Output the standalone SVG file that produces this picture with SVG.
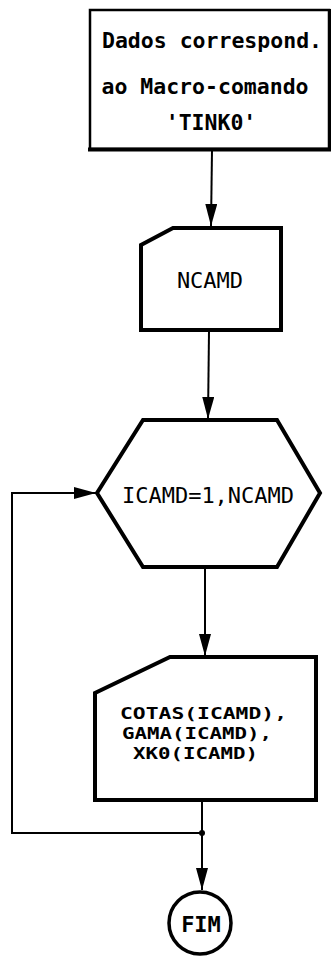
<svg xmlns="http://www.w3.org/2000/svg" width="335" height="956" viewBox="0 0 335 956">
<defs>
<style>
.t{font-family:"DejaVu Sans Mono","Liberation Mono",monospace;fill:#000}
.b{font-weight:bold}
.shape{fill:#fff;stroke:#000;stroke-width:4;stroke-linejoin:miter}
.conn{fill:none;stroke:#000;stroke-width:2}
</style>
<marker id="ah" markerUnits="userSpaceOnUse" markerWidth="22" markerHeight="12" refX="22" refY="6" viewBox="0 0 22 12" orient="auto">
<path d="M0,0 L22,6 L0,12 Z" fill="#000"/>
</marker>
</defs>
<rect width="335" height="956" fill="#fff"/>
<g id="connectors">
<line class="conn" x1="212" y1="150" x2="211" y2="226" marker-end="url(#ah)"/>
<line class="conn" x1="209" y1="331" x2="208" y2="419" marker-end="url(#ah)"/>
<line class="conn" x1="205" y1="568" x2="205" y2="656" marker-end="url(#ah)"/>
<line class="conn" x1="202" y1="802" x2="202" y2="890" marker-end="url(#ah)"/>
<polyline class="conn" points="202,833 12,833 12,493 96,493" marker-end="url(#ah)"/>
<circle cx="202" cy="833" r="3" fill="#000"/>
</g>
<g id="n1">
<rect x="90" y="10" width="239" height="139" fill="#fff" stroke="#000" stroke-width="2.5"/>
<line x1="88" y1="149.5" x2="331" y2="149.5" stroke="#000" stroke-width="4"/>
<line x1="329.5" y1="9" x2="329.5" y2="151" stroke="#000" stroke-width="3"/>
<text class="t b" x="212" y="48" font-size="21.5" text-anchor="middle">Dados correspond.</text>
<text class="t b" x="205" y="94" font-size="21.5" text-anchor="middle">ao Macro-comando</text>
<text class="t b" x="211" y="130" font-size="21.5" text-anchor="middle">'TINK0'</text>
</g>
<g id="n2">
<path class="shape" d="M173,228 L281,228 L281,330 L141,330 L141,245 Z"/>
<text class="t" x="210" y="288" font-size="22" text-anchor="middle">NCAMD</text>
</g>
<g id="n3">
<path class="shape" d="M143,420 L277,420 L320,493 L277,567 L143,567 L97,493 Z"/>
<text class="t" x="208" y="503" font-size="22" text-anchor="middle">ICAMD=1,NCAMD</text>
</g>
<g id="n4">
<path class="shape" d="M170,657 L316,657 L316,800 L95,800 L95,693 Z"/>
<text class="t b" x="120" y="719" font-size="16.5" textLength="167" lengthAdjust="spacingAndGlyphs">COTAS(ICAMD),</text>
<text class="t b" x="122" y="739" font-size="16.5" textLength="150" lengthAdjust="spacingAndGlyphs">GAMA(ICAMD),</text>
<text class="t b" x="133" y="759" font-size="16.5" textLength="125" lengthAdjust="spacingAndGlyphs">XK0(ICAMD)</text>
</g>
<g id="n5">
<circle cx="200" cy="923" r="31" fill="#fff" stroke="#000" stroke-width="3.5"/>
<text class="t b" x="201" y="932" font-size="22" text-anchor="middle">FIM</text>
</g>
</svg>
